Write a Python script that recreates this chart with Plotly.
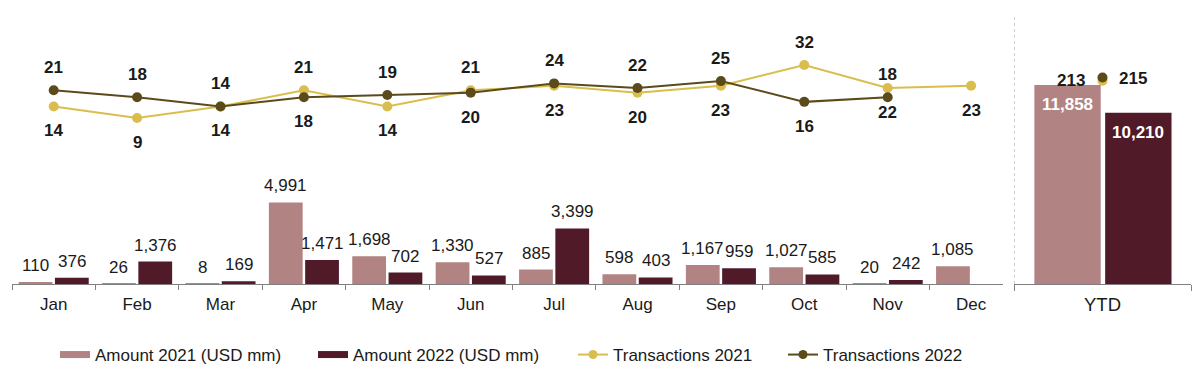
import plotly.graph_objects as go

# ---------------- data ----------------
months = ["Jan", "Feb", "Mar", "Apr", "May", "Jun", "Jul", "Aug", "Sep", "Oct", "Nov", "Dec"]
amount_2021 = [110, 26, 8, 4991, 1698, 1330, 885, 598, 1167, 1027, 20, 1085]
amount_2022 = [376, 1376, 169, 1471, 702, 527, 3399, 403, 959, 585, 242, None]
transactions_2021 = [14, 9, 14, 21, 14, 21, 23, 20, 23, 32, 22, 23]
transactions_2022 = [21, 18, 14, 18, 19, 20, 24, 22, 25, 16, 18, None]

ytd_category = ["YTD"]
ytd_amount_2021 = [11858]
ytd_amount_2022 = [10210]
ytd_transactions_2021 = [213]
ytd_transactions_2022 = [215]

series_names = ["Amount 2021 (USD mm)", "Amount 2022 (USD mm)", "Transactions 2021", "Transactions 2022"]

# ---------------- style ----------------
C_A21 = "#B28383"
C_A22 = "#501A28"
C_T21 = "#D9BE4E"
C_T22 = "#5B4A1A"
TXT = "#1a1a1a"
AXC = "#808080"
FONT = "Liberation Sans, Arial, sans-serif"

# label side per point (style): +1 above, -1 below
side_2021 = [-1, -1, 1, 1, -1, 1, -1, -1, -1, 1, -1, -1]
side_2022 = [1, 1, -1, -1, 1, -1, 1, 1, 1, -1, 1, 1]

# page offset of the figure (body margin)
OX, OY = 8, 8
W, H = 1200 - OX, 373 - OY
TOP, BOTTOM = 10 - OY, 285 - OY
PH = BOTTOM - TOP

def px(x):
    return (x - OX) / W

BAR_W = 0.405
OFF21, OFF22 = -0.42, 0.015
CAT_PX = 83.4
YTD_SCALE = 1.6  # px per transaction in the YTD panel

fig = go.Figure()

# main bars
fig.add_trace(go.Bar(x=months, y=amount_2021, width=BAR_W, offset=OFF21, marker_color=C_A21,
                     marker_line_width=0, name=series_names[0], showlegend=False,
                     xaxis="x", yaxis="y"))
fig.add_trace(go.Bar(x=months, y=amount_2022, width=BAR_W, offset=OFF22, marker_color=C_A22,
                     marker_line_width=0, name=series_names[1], showlegend=False,
                     xaxis="x", yaxis="y"))
# main lines
fig.add_trace(go.Scatter(x=months, y=transactions_2021, mode="lines+markers", name=series_names[2],
                         line=dict(color=C_T21, width=2), marker=dict(color=C_T21, size=10),
                         showlegend=False, xaxis="x", yaxis="y2"))
fig.add_trace(go.Scatter(x=months, y=transactions_2022, mode="lines+markers", name=series_names[3],
                         line=dict(color=C_T22, width=2), marker=dict(color=C_T22, size=10),
                         showlegend=False, xaxis="x", yaxis="y2"))

# YTD bars
fig.add_trace(go.Bar(x=ytd_category, y=ytd_amount_2021, width=0.375, offset=-0.385, marker_color=C_A21,
                     marker_line_width=0, showlegend=False, xaxis="x2", yaxis="y3"))
fig.add_trace(go.Bar(x=ytd_category, y=ytd_amount_2022, width=0.375, offset=0.015, marker_color=C_A22,
                     marker_line_width=0, showlegend=False, xaxis="x2", yaxis="y3"))
# YTD points
fig.add_trace(go.Scatter(x=ytd_category, y=ytd_transactions_2021, mode="markers",
                         marker=dict(color=C_T21, size=10), showlegend=False, xaxis="x2", yaxis="y4"))
fig.add_trace(go.Scatter(x=ytd_category, y=ytd_transactions_2022, mode="markers",
                         marker=dict(color=C_T22, size=10), showlegend=False, xaxis="x2", yaxis="y4"))

# legend entries
fig.add_trace(go.Scatter(x=[None], y=[None], mode="lines", name=series_names[0],
                         line=dict(color=C_A21, width=7), legendwidth=213))
fig.add_trace(go.Scatter(x=[None], y=[None], mode="lines", name=series_names[1],
                         line=dict(color=C_A22, width=7), legendwidth=215))
fig.add_trace(go.Scatter(x=[None], y=[None], mode="lines+markers", name=series_names[2],
                         line=dict(color=C_T21, width=2), marker=dict(color=C_T21, size=9), legendwidth=165))
fig.add_trace(go.Scatter(x=[None], y=[None], mode="lines+markers", name=series_names[3],
                         line=dict(color=C_T22, width=2), marker=dict(color=C_T22, size=9)))

ann = []
# bar value labels
for m, v in zip(months, amount_2021):
    if v is not None:
        ann.append(dict(x=m, y=v, xref="x", yref="y", text=f"{v:,}", showarrow=False,
                        xshift=(OFF21 + BAR_W / 2) * CAT_PX, yshift=16.5,
                        font=dict(size=17, color=TXT, family=FONT)))
for m, v in zip(months, amount_2022):
    if v is not None:
        ann.append(dict(x=m, y=v, xref="x", yref="y", text=f"{v:,}", showarrow=False,
                        xshift=(OFF22 + BAR_W / 2) * CAT_PX, yshift=16.5,
                        font=dict(size=17, color=TXT, family=FONT)))
# transaction labels
for vals, sides in ((transactions_2021, side_2021), (transactions_2022, side_2022)):
    for m, v, s in zip(months, vals, sides):
        if v is not None:
            ann.append(dict(x=m, y=v, xref="x", yref="y2", text=f"<b>{v}</b>", showarrow=False,
                            yshift=22.5 if s > 0 else -24.5,
                            font=dict(size=17, color=TXT, family=FONT)))
# YTD labels
ann.append(dict(x="YTD", y=ytd_amount_2021[0], xref="x2", yref="y3", text=f"<b>{ytd_amount_2021[0]:,}</b>",
                showarrow=False, xshift=-0.1975 * 177, yshift=-19.5, font=dict(size=17, color="white", family=FONT)))
ann.append(dict(x="YTD", y=ytd_amount_2022[0], xref="x2", yref="y3", text=f"<b>{ytd_amount_2022[0]:,}</b>",
                showarrow=False, xshift=0.2025 * 177, yshift=-19.5, font=dict(size=17, color="white", family=FONT)))
ann.append(dict(x="YTD", y=ytd_transactions_2021[0], xref="x2", yref="y4", text=f"<b>{ytd_transactions_2021[0]}</b>",
                showarrow=False, xshift=-32, yshift=0, font=dict(size=17, color=TXT, family=FONT)))
ann.append(dict(x="YTD", y=ytd_transactions_2022[0], xref="x2", yref="y4", text=f"<b>{ytd_transactions_2022[0]}</b>",
                showarrow=False, xshift=30, yshift=-1.5, font=dict(size=17, color=TXT, family=FONT)))

fig.update_layout(
    width=W, height=H,
    margin=dict(l=0, r=0, t=TOP, b=H - BOTTOM),
    paper_bgcolor="white", plot_bgcolor="white",
    font=dict(family=FONT, color=TXT, size=17),
    barmode="group",
    annotations=ann,
    showlegend=True,
    legend=dict(orientation="h", x=px(55), xanchor="left", y=-70.7 / PH, yanchor="middle",
                font=dict(size=17, color=TXT, family=FONT), bgcolor="rgba(0,0,0,0)",
                itemclick=False, itemdoubleclick=False, traceorder="normal"),
    xaxis=dict(domain=[px(12), px(1003)], type="category", categoryorder="array", categoryarray=months,
               range=[-0.5, -0.5 + (1003 - 12) / CAT_PX], tickson="boundaries", ticks="outside",
               ticklen=5, tickcolor=AXC, showline=True, linecolor=AXC, linewidth=1, showgrid=False,
               zeroline=False, tickfont=dict(size=17, color=TXT, family=FONT), ticklabelstandoff=5,
               anchor="y", fixedrange=True),
    yaxis=dict(domain=[0, 1], range=[0, PH * 61], visible=False, fixedrange=True),
    yaxis2=dict(overlaying="y", range=[-62.9, 55.8], visible=False, fixedrange=True),
    xaxis2=dict(domain=[px(1014), px(1191)], type="category", range=[-0.5, 0.5], tickson="boundaries",
                ticks="outside", ticklen=6, tickcolor=AXC, showline=True, linecolor=AXC, linewidth=1,
                showgrid=False, zeroline=False, tickfont=dict(size=18.5, color=TXT, family=FONT),
                ticklabelstandoff=4, anchor="y3", fixedrange=True),
    yaxis3=dict(domain=[0, 1], anchor="x2", range=[0, PH * 59.4], visible=False, fixedrange=True),
    yaxis4=dict(overlaying="y3", anchor="x2",
                range=[215 - (BOTTOM + OY - 77.7) / YTD_SCALE, 215 + (77.7 - OY - TOP) / YTD_SCALE],
                visible=False, fixedrange=True),
    shapes=[dict(type="line", xref="paper", yref="paper", x0=px(1014.5), x1=px(1014.5),
                 y0=0, y1=(BOTTOM + OY - 15) / PH, line=dict(color="#cfcfcf", width=1, dash="dot"))],
)

fig.write_html("out.html", config={"displayModeBar": False})
